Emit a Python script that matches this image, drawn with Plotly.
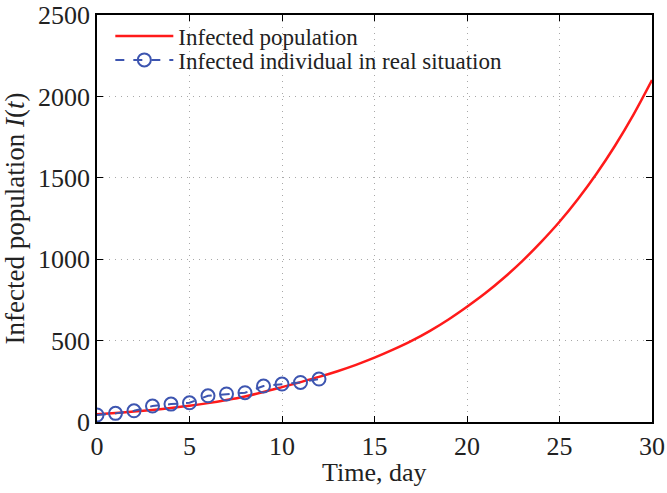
import plotly.graph_objects as go

# Model curve (per day)
model_days = list(range(0, 31))
model_values = [47, 55, 64, 74, 86, 100, 116, 135, 157, 184, 214,
                245, 277, 312, 351, 395, 444, 498, 560, 630, 708,
                792, 886, 990, 1105, 1230, 1370, 1525, 1697, 1888, 2100]

# Real data points
real_days = list(range(0, 13))
real_values = [43, 53, 69, 98, 110, 118, 161, 172, 180, 221, 233, 243, 264]

x_ticks = [0, 5, 10, 15, 20, 25, 30]
y_ticks = [0, 500, 1000, 1500, 2000, 2500]

FONT = "Liberation Serif, Times New Roman, serif"
TXT = "#222222"

fig = go.Figure()
fig.add_trace(go.Scatter(
    x=model_days, y=model_values, mode="lines", name="Infected population",
    line=dict(color="#ff1a1a", width=2.5, shape="spline"),
    legend="legend",
))
fig.add_trace(go.Scatter(
    x=real_days, y=real_values, mode="lines+markers",
    name="Infected individual in real situation",
    line=dict(color="#3d55b0", width=2, dash="dash"),
    marker=dict(symbol="circle-open", size=13, color="#3d55b0",
                line=dict(width=2, color="#3d55b0")),
    legend="legend2",
))

axis_common = dict(
    showline=True, linecolor="black", linewidth=1.5, mirror="ticks",
    ticks="inside", ticklen=6, tickwidth=1.2, tickcolor="black",
    showgrid=True, gridcolor="#a8a8a8", griddash="1px,5px", gridwidth=1,
    zeroline=False, automargin=False, ticklabeloverflow="allow",
    tickfont=dict(family=FONT, size=26, color=TXT),
)

fig.update_xaxes(range=[0, 30], tickvals=x_ticks, **axis_common)
fig.update_yaxes(range=[0, 2500], tickvals=y_ticks,
                 title=dict(text="Infected population <i>I</i>(<i>t</i>)",
                            font=dict(family=FONT, size=27, color=TXT), standoff=12),
                 **axis_common)

fig.add_annotation(text="Time, day", xref="paper", yref="paper", x=0.5, y=0,
                   xanchor="center", yanchor="middle", yshift=-50, showarrow=False,
                   font=dict(family=FONT, size=26, color=TXT))

leg_common = dict(xanchor="left", yanchor="middle", bgcolor="rgba(0,0,0,0)",
                  font=dict(family=FONT, size=23, color=TXT), itemwidth=58)

fig.update_layout(
    width=667, height=493,
    margin=dict(l=97, r=15, t=15, b=71),
    plot_bgcolor="white", paper_bgcolor="white",
    font=dict(family=FONT, color=TXT),
    legend=dict(x=0.024, y=0.9485, **leg_common),
    legend2=dict(x=0.024, y=0.8895, **leg_common),
    showlegend=True,
)

# remove the default 8px page margin so the figure sits at the window origin
fig.write_html("out.html", config={"displayModeBar": False},
               post_script="document.body.style.margin='0px';document.body.style.overflow='hidden';")
